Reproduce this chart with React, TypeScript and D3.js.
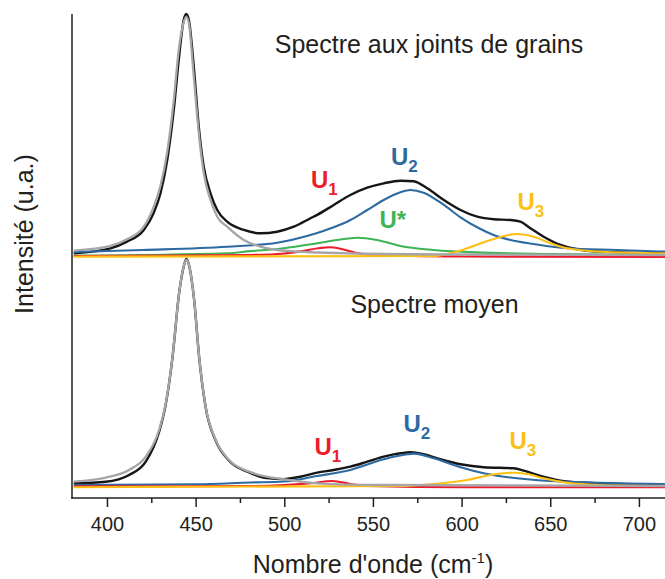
import React from "react";
import * as d3 from "d3";

// wavenumber (cm-1), intensity (a.u.) relative to each spectrum's baseline
const xTicksMajor = [400, 450, 500, 550, 600, 650, 700];
const xTicksMinor = [425, 475, 525, 575, 625, 675];
const TOP_OFFSET = 47.5;

const topTotal: [number, number][] = [
  [381, 0.66], [401.7, 1.69], [411, 3.06], [420.5, 5.48], [426, 8.93], [429.9, 13.06],
  [433.7, 19.94], [437.4, 30.27], [440.2, 40.6], [443, 48.86], [444.4, 50.1], [445.9, 48.86],
  [448.7, 39.2], [451.5, 26.8], [454.3, 18.55], [458.1, 13.06], [461.9, 9.6], [467.5, 7.19],
  [476.9, 5.48], [486.3, 4.79], [495.7, 5.12], [505.1, 6.16], [514.5, 7.89], [518.3, 8.6],
  [527.6, 10.64], [537, 12.7], [546.5, 14.21], [555.8, 15.12], [565.2, 15.66], [572.7, 15.54],
  [580.3, 14.09], [589.7, 11.67], [599.1, 9.6], [608.5, 8.22], [617.8, 7.69], [627.3, 7.54],
  [632.9, 7.19], [638.5, 5.83], [646, 4.09], [655.5, 2.38], [664.9, 1.49], [678, 1.0], [715, 0.66],
];
const topMain: [number, number][] = [
  [381, 1.2], [401.7, 2.17], [411, 3.55], [420.5, 6.16], [426, 10.2], [429.9, 14.6],
  [433.7, 21.6], [437.4, 32.3], [440.2, 42.7], [443, 48.4], [444.4, 49.5], [445.9, 48.2],
  [448.7, 37.1], [451.5, 25.5], [454.3, 17.25], [458.1, 11.67], [461.9, 8.22], [467.5, 6.16],
  [476.9, 3.41], [486.3, 2.02], [495.7, 1.34], [514.5, 0.87], [540, 0.62], [600, 0.41], [715, 0.31],
];
const topU2: [number, number][] = [
  [381, 0.93], [420, 1.34], [467.5, 2.02], [495.7, 2.85], [514.5, 4.44], [527.6, 6.03],
  [537, 7.54], [546.5, 9.6], [555.8, 11.67], [565.2, 13.26], [570.8, 13.74], [578.3, 13.18],
  [589.7, 10.64], [599.1, 8.1], [608.5, 6.03], [617.8, 4.44], [627.3, 3.41], [640.4, 2.58],
  [659.2, 1.69], [687.4, 1.34], [715, 0.99],
];
const topUStar: [number, number][] = [
  [381, 0.17], [467.5, 0.66], [480.6, 1.1], [499.4, 1.69], [518.3, 2.73], [529.5, 3.41],
  [540.8, 3.88], [552, 3.41], [565.2, 2.17], [584, 1.34], [612.2, 0.79], [649.8, 0.52], [715, 0.31],
];
const topU1: [number, number][] = [
  [381, 0.1], [480, 0.31], [500, 0.62], [510, 1.14], [520, 1.76], [525, 1.9], [532, 1.55],
  [540, 0.79], [548, 0.31], [600, 0], [715, -0.1],
];
const topU3: [number, number][] = [
  [381, -0.04], [584, 0.1], [593.4, 0.66], [602.8, 1.69], [616, 3.41], [631, 4.65],
  [640.4, 4.09], [649.8, 2.73], [659.2, 1.69], [678, 0.99], [715, 0.66],
];

const botTotal: [number, number][] = [
  [381, 0.64], [399, 0.97], [412.2, 2.36], [421.6, 5.1], [429.1, 11.24], [432.9, 17.0],
  [436.7, 26.7], [440.4, 39.9], [443.2, 45.7], [444.5, 47.0], [446, 45.7], [448.9, 38.5],
  [451.7, 26.7], [455.4, 16.3], [461.1, 9.4], [468.6, 5.3], [479.9, 2.9], [489.9, 1.7],
  [499.4, 1.5], [508.8, 2.0], [518.3, 2.83], [527.6, 3.39], [537, 4.07], [546.5, 5.1],
  [555.8, 6.14], [565.2, 6.84], [570.8, 7.05], [578.3, 6.63], [587.7, 5.6], [599.1, 4.57],
  [612.2, 3.95], [629.2, 3.74], [634.8, 3.24], [644.2, 2.15], [655.5, 1.18], [668.6, 0.76], [715, 0.29],
];
const botMain: [number, number][] = [
  [381, 0.97], [399, 1.8], [412.2, 3.39], [421.6, 6.14], [429.1, 11.65], [432.9, 17.17],
  [436.7, 26.8], [440.4, 39.9], [443.2, 45.7], [444.5, 46.8], [446, 45.7], [448.9, 38.5],
  [451.7, 26.8], [455.4, 16.4], [461.1, 9.59], [468.6, 5.45], [479.9, 3.04], [489.9, 2.0],
  [499.4, 1.47], [518.3, 0.64], [555.8, 0.29], [715, 0.08],
];
const botU2: [number, number][] = [
  [381, 0.29], [450, 0.45], [480.6, 0.8], [499.4, 1.0], [518.3, 2.15], [537, 3.39],
  [555.8, 5.6], [569, 6.63], [572.7, 6.76], [584, 5.81], [599.1, 3.95], [612.2, 2.71],
  [631, 1.67], [649.8, 1.12], [715, 0.5],
];
const botU1: [number, number][] = [
  [381, 0], [480, 0.08], [500, 0.29], [514.7, 0.64], [526.7, 1.12], [537, 0.5],
  [546.5, 0.08], [600, -0.19], [715, -0.19],
];
const botU3: [number, number][] = [
  [381, -0.19], [565, 0.08], [584, 0.5], [602.8, 1.32], [616, 2.36], [629.2, 2.83],
  [636.7, 2.56], [646, 1.67], [659.2, 0.76], [678, 0.29], [715, 0.08],
];

const C = {
  axis: "#231f20",
  black: "#161616",
  gray: "#a6a6a8",
  blue: "#2d6aa2",
  green: "#3fb456",
  red: "#ec1c2a",
  yellow: "#fcc015",
};

const W = 665;
const H = 579;
const FONT = "'Liberation Sans', Arial, Helvetica, sans-serif";

export default function App() {
  const x = d3.scaleLinear().domain([380, 715]).range([72, 666]);
  const y = d3.scaleLinear().domain([-2.4, 97.6]).range([498, 14]);

  const mk = (off: number) =>
    d3
      .line<[number, number]>()
      .x((d) => x(d[0]))
      .y((d) => y(d[1] + off))
      .curve(d3.curveMonotoneX);
  const lt = mk(TOP_OFFSET);
  const lb = mk(0);

  const series: { d: [number, number][]; off: boolean; c: string; w: number }[] = [
    { d: topTotal, off: true, c: C.black, w: 2.4 },
    { d: topU2, off: true, c: C.blue, w: 2.1 },
    { d: topUStar, off: true, c: C.green, w: 2.1 },
    { d: topU1, off: true, c: C.red, w: 2.1 },
    { d: topU3, off: true, c: C.yellow, w: 2.1 },
    { d: topMain, off: true, c: C.gray, w: 2.3 },
    { d: botTotal, off: false, c: C.black, w: 2.4 },
    { d: botU2, off: false, c: C.blue, w: 2.1 },
    { d: botU1, off: false, c: C.red, w: 2.1 },
    { d: botU3, off: false, c: C.yellow, w: 2.1 },
    { d: botMain, off: false, c: C.gray, w: 2.3 },
  ];

  const label = (
    lx: number,
    ly: number,
    color: string,
    sub: string | null,
    star = false
  ) => (
    <text x={lx} y={ly} fill={color} fontFamily={FONT} fontWeight="bold" fontSize={24}>
      U{star ? "*" : ""}
      {sub && (
        <tspan fontSize={17} dy={7}>
          {sub}
        </tspan>
      )}
    </text>
  );

  return (
    <svg
      width={W}
      height={H}
      style={{ position: "absolute", left: 0, top: 0, background: "#fff" }}
    >
      <defs>
        <clipPath id="plot">
          <rect x={72} y={0} width={W - 72} height={498} />
        </clipPath>
      </defs>
      <g clipPath="url(#plot)">
        {series.map((s, i) => (
          <path
            key={i}
            d={(s.off ? lt : lb)(s.d) || ""}
            fill="none"
            stroke={s.c}
            strokeWidth={s.w}
            strokeLinejoin="round"
          />
        ))}
      </g>

      {/* axes */}
      <line x1={72} x2={72} y1={14} y2={498.7} stroke={C.axis} strokeWidth={1.5} />
      <line x1={71.3} x2={W} y1={498} y2={498} stroke={C.axis} strokeWidth={1.5} />
      {xTicksMajor.map((t) => (
        <g key={t}>
          <line x1={x(t)} x2={x(t)} y1={498} y2={507} stroke={C.axis} strokeWidth={1.5} />
          <text
            x={x(t)}
            y={531}
            textAnchor="middle"
            fontFamily={FONT}
            fontSize={20}
            fill={C.axis}
          >
            {t}
          </text>
        </g>
      ))}
      {xTicksMinor.map((t) => (
        <line key={t} x1={x(t)} x2={x(t)} y1={498} y2={503} stroke={C.axis} strokeWidth={1.5} />
      ))}

      <text x={373} y={573} textAnchor="middle" fontFamily={FONT} fontSize={25} fill={C.axis}>
        Nombre d'onde (cm
        <tspan fontSize={15} dy={-10}>
          -1
        </tspan>
        <tspan dy={10}>)</tspan>
      </text>
      <text
        transform="translate(33,234) rotate(-90)"
        textAnchor="middle"
        fontFamily={FONT}
        fontSize={25}
        fill={C.axis}
      >
        Intensité (u.a.)
      </text>

      <text x={429} y={53} textAnchor="middle" fontFamily={FONT} fontSize={25} fill={C.axis}>
        Spectre aux joints de grains
      </text>
      <text x={434.5} y={313} textAnchor="middle" fontFamily={FONT} fontSize={25} fill={C.axis}>
        Spectre moyen
      </text>

      {label(311, 188, C.red, "1")}
      {label(391, 165, C.blue, "2")}
      {label(379.5, 228, C.green, null, true)}
      {label(517.5, 210, C.yellow, "3")}
      {label(314.5, 455, C.red, "1")}
      {label(403.5, 431.5, C.blue, "2")}
      {label(509.5, 449, C.yellow, "3")}
    </svg>
  );
}
